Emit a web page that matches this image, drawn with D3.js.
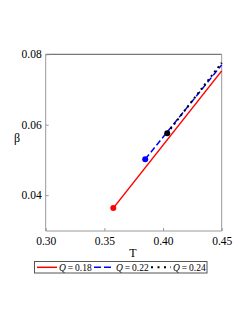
<!DOCTYPE html>
<html><head><meta charset="utf-8">
<script src="https://cdn.jsdelivr.net/npm/d3@7"></script>
<style>body{margin:0;background:#fff}</style>
</head><body>
<script>
const xTicks = [0.30, 0.35, 0.40, 0.45];
const yTicks = [0.04, 0.06, 0.08];
const seriesQ = ["0.18", "0.22", "0.24"];
const seriesColors = ["#ff0000", "#0000ff", "#000000"];
const seriesDash = [null, "6,3", "2,3.5"];
const seriesWidth = [1.5, 1.5, 2];
const seriesT = [[0.3576, 0.45], [0.3848, 0.45], [0.4036, 0.45]];
const seriesB = [[0.0363, 0.0753], [0.0502, 0.0770], [0.0576, 0.0776]];

const FONT = "Liberation Serif";
const W = 249, H = 323;
const svg = d3.select("body").append("svg").attr("width", W).attr("height", H).attr("font-family", FONT);
const x = d3.scaleLinear().domain([0.30, 0.45]).range([45.7, 221.7]);
const y = d3.scaleLinear().domain([0.0298, 0.08]).range([231, 54.3]);

// Frame
const fr = svg.append("g");
fr.append("line").attr("x1", x.range()[0]).attr("x2", x.range()[1]).attr("y1", y.range()[1]).attr("y2", y.range()[1]).attr("stroke", "#555");
fr.append("line").attr("x1", x.range()[0]).attr("x2", x.range()[1]).attr("y1", y.range()[0]).attr("y2", y.range()[0]).attr("stroke", "#999");
fr.append("line").attr("x1", x.range()[0]).attr("x2", x.range()[0]).attr("y1", y.range()[0]).attr("y2", y.range()[1]).attr("stroke", "#999");
fr.append("line").attr("x1", x.range()[1]).attr("x2", x.range()[1]).attr("y1", y.range()[0]).attr("y2", y.range()[1]).attr("stroke", "#999");

const xAxis = svg.append("g").attr("transform", `translate(0,${y.range()[0]})`)
  .call(d3.axisBottom(x).tickValues(xTicks).tickFormat(d3.format(".2f")).tickSizeInner(-3).tickSizeOuter(0).tickPadding(6));
const yAxis = svg.append("g").attr("transform", `translate(${x.range()[0]},0)`)
  .call(d3.axisLeft(y).tickValues(yTicks).tickFormat(d3.format(".2f")).tickSizeInner(-3).tickSizeOuter(0).tickPadding(4));
[xAxis, yAxis].forEach(a => {
  a.attr("font-family", FONT).attr("font-size", 11.5);
  a.select(".domain").remove();
  a.selectAll("line").attr("stroke", "#999");
  a.selectAll("text").attr("fill", "#000").attr("font-family", FONT).attr("font-size", 11.5);
});
xAxis.selectAll("text").attr("dy", "0.71em");

svg.append("text").attr("x", 133).attr("y", 257).attr("text-anchor", "middle")
  .attr("font-family", FONT).attr("font-size", 12).text("T");
svg.append("text").attr("x", 17).attr("y", 142).attr("text-anchor", "middle")
  .attr("font-family", FONT).attr("font-size", 12).text("β");

// Series
const line = d3.line().x(d => x(d[0])).y(d => y(d[1]));
seriesT.forEach((ts, i) => {
  const pts = ts.map((t, j) => [t, seriesB[i][j]]);
  svg.append("path").attr("d", line(pts)).attr("fill", "none")
    .attr("stroke", seriesColors[i]).attr("stroke-width", seriesWidth[i])
    .attr("stroke-dasharray", seriesDash[i]);
  svg.append("circle").attr("cx", x(pts[0][0])).attr("cy", y(pts[0][1])).attr("r", 3)
    .attr("fill", seriesColors[i]);
});

// Legend
const legDash = [null, "7,3", "2,4.5"];
const lg = svg.append("g");
lg.append("rect").attr("x", 34.5).attr("y", 261.5).attr("width", 172.5).attr("height", 11.5)
  .attr("fill", "#fff").attr("stroke", "#555");
const lx = [37, 94, 151];
seriesQ.forEach((q, i) => {
  lg.append("line").attr("x1", lx[i]).attr("x2", lx[i] + 20).attr("y1", 267.3).attr("y2", 267.3)
    .attr("stroke", seriesColors[i]).attr("stroke-width", seriesWidth[i]).attr("stroke-dasharray", legDash[i]);
  const t = lg.append("text").attr("x", lx[i] + 22).attr("y", 270.5)
    .attr("font-family", FONT).attr("font-size", 9.5);
  t.append("tspan").attr("font-style", "italic").text("Q");
  t.append("tspan").text("\u2009=\u2009" + q);
});
</script>
</body></html>
